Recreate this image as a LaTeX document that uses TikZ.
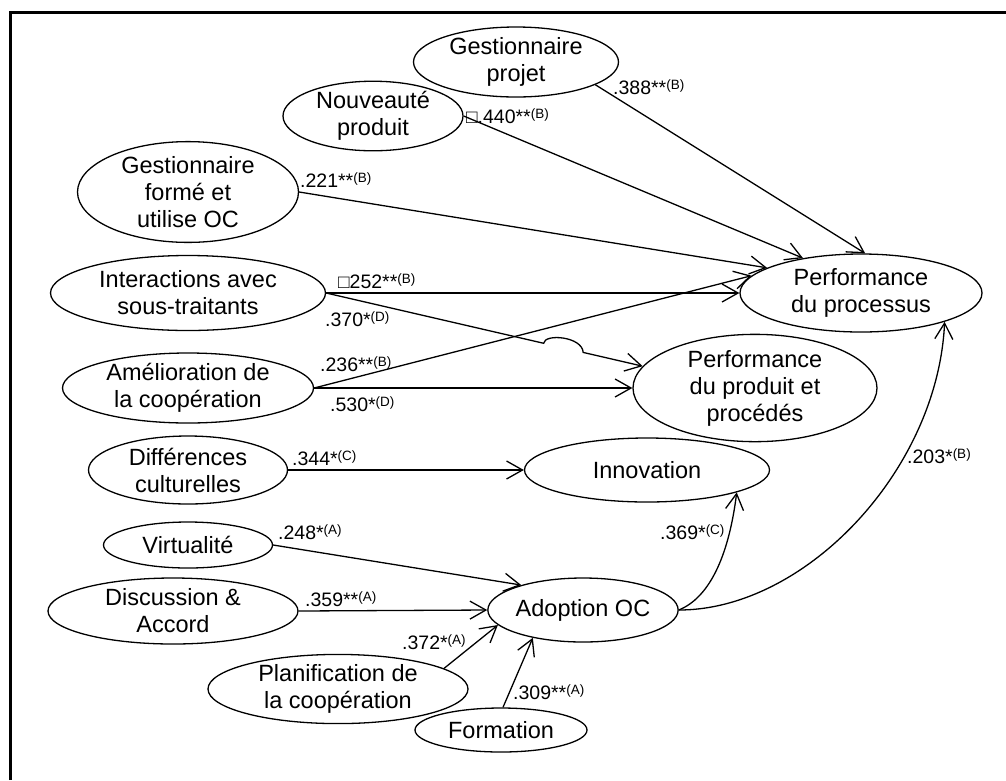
\documentclass[tikz,border=0pt]{standalone}
\usepackage{fontspec}
\setmainfont{Liberation Sans}
\usetikzlibrary{arrows.meta,shapes.geometric,calc}

% coefficient with raised significance group
\newcommand\coefval[2]{#1\raisebox{5pt}{\fontsize{13.5}{13.5}\selectfont #2}}
\newcommand\sqmark{{\fontsize{19}{19}\selectfont □}}

\begin{document}
\begin{tikzpicture}[x=1pt,y=-1pt,
  var/.style={ellipse,draw,line width=1.3pt,inner sep=0pt,align=center,
              font=\fontsize{23.5}{27}\selectfont},
  coef/.style={anchor=base west,inner sep=0pt,font=\fontsize{19.5}{19.5}\selectfont},
  link/.style={line width=1.3pt,-{Straight Barb[length=16pt,width=18pt]}}]

\useasboundingbox (0,0) rectangle (1006,780);

% frame
\draw[line width=3pt] (10.5,780) -- (10.5,12) -- (1006,12);

% variables
\node[var,minimum width=205pt,minimum height=70pt] (gp)   at (516,62)  {Gestionnaire\\projet};
\node[var,minimum width=180pt,minimum height=62pt] (np)   at (373,116) {Nouveauté\\produit};
\node[var,minimum width=221pt,minimum height=95pt] (gf)   at (188,192) {Gestionnaire\\formé et\\utilise OC};
\node[var,minimum width=275pt,minimum height=75pt] (int)  at (188,293) {Interactions avec\\sous-traitants};
\node[var,minimum width=251pt,minimum height=70pt] (ame)  at (188,388) {Amélioration de\\la coopération};
\node[var,minimum width=199pt,minimum height=68pt] (dif)  at (188,470) {Différences\\culturelles};
\node[var,minimum width=169pt,minimum height=46pt] (vir)  at (188,545) {Virtualité};
\node[var,minimum width=250pt,minimum height=66pt] (dis)  at (173,611) {Discussion \&\\Accord};
\node[var,minimum width=260pt,minimum height=68pt] (pla)  at (338,689) {Planification de\\la coopération};
\node[var,minimum width=172pt,minimum height=44pt] (frm)  at (501,730) {Formation};
\node[var,minimum width=160pt,minimum height=64pt] (ado)  at (583,610) {Adoption OC};
\node[var,minimum width=245pt,minimum height=64pt] (inn)  at (647,470) {Innovation};
\node[var,minimum width=242pt,minimum height=78pt] (pdp)  at (861,293) {Performance\\du processus};
\node[var,minimum width=244pt,minimum height=97pt] (prod) at (755,388) {Performance\\du produit et\\procédés};

% paths
\draw[link] (gp.-16)   -- (pdp.84);
\draw[link] (np.east)  -- (pdp.149);
\draw[link] (gf.east)  -- (pdp.165);
\draw[link] (int.east) -- (pdp.west);
\coordinate (hopA) at ($(int.east)!0.687!(prod.169)$);
\coordinate (hopB) at ($(int.east)!0.812!(prod.169)$);
\draw[link] (int.east) -- (hopA) .. controls +(1,-10) and +(-1,-16) .. (hopB) -- (prod.169);
\draw[link] (ame.east) -- (pdp.171);
\draw[link] (ame.east) -- (prod.west);
\draw[link] (dif.east) -- (inn.west);
\draw[link] (vir.east) -- (ado.158);
\draw[link] (dis.east) -- (ado.west);
\draw[link] (pla.11)   -- (ado.190);
\draw[link] (frm.85)   -- (ado.209);
\draw[link] (ado.east) .. controls +(37,-15) and +(-6,48) .. (inn.-14);
\draw[link] (ado.east) .. controls +(127,0) and +(-7,148) .. (pdp.-19);

% coefficients
\node[coef] (c1)  at (613,94.5)  {\coefval{.388**}{(B)}};
\node[coef] (c2)  at (466,123.5) {\sqmark\coefval{.440**}{(B)}};
\node[coef] (c3)  at (300,187.5) {\coefval{.221**}{(B)}};
\node[coef] (c4)  at (338,288.5) {\sqmark\coefval{252**}{(B)}};
\node[coef] (c5)  at (325,326.5) {\coefval{.370*}{(D)}};
\node[coef] (c6)  at (320,371.5) {\coefval{.236**}{(B)}};
\node[coef] (c7)  at (330,411.5) {\coefval{.530*}{(D)}};
\node[coef] (c8)  at (292,465.5) {\coefval{.344*}{(C)}};
\node[coef] (c9)  at (278,539.5) {\coefval{.248*}{(A)}};
\node[coef] (c10) at (305,606.5) {\coefval{.359**}{(A)}};
\node[coef] (c11) at (402,649.5) {\coefval{.372*}{(A)}};
\node[coef] (c12) at (513,699.5) {\coefval{.309**}{(A)}};
\node[coef] (c13) at (660,539.5) {\coefval{.369*}{(C)}};
\node[coef] (c14) at (907,463.5) {\coefval{.203*}{(B)}};
\end{tikzpicture}
\end{document}
